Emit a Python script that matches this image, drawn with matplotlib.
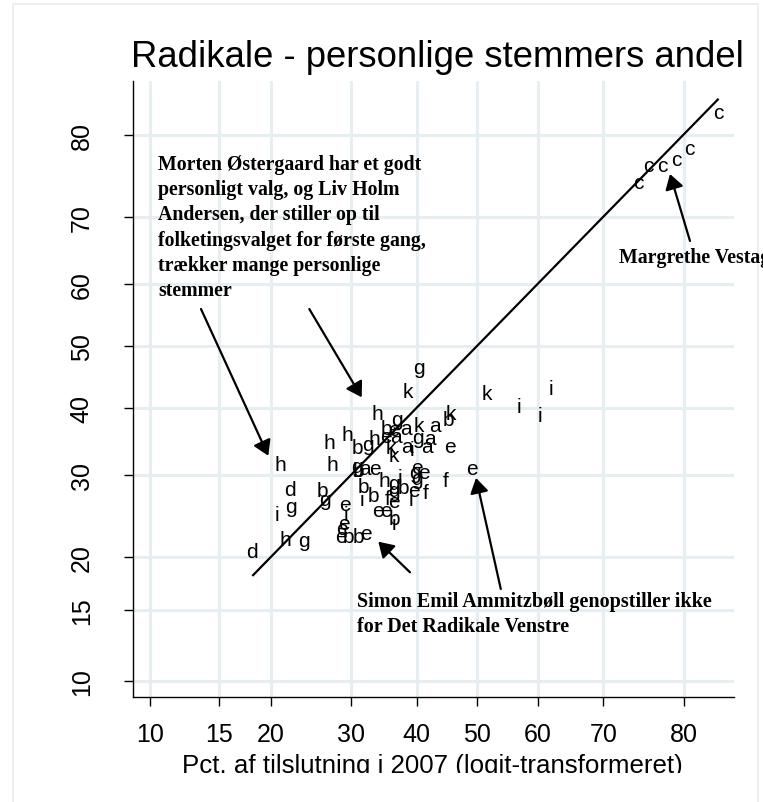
import numpy as np
import matplotlib
matplotlib.use('Agg')
import matplotlib.pyplot as plt
from matplotlib.patches import Rectangle

# ---------------- data ----------------
letters = ['c', 'c', 'c', 'c', 'c', 'c',
           'k', 'i', 'i', 'i', 'e', 'e', 'f',
           'g', 'k', 'h', 'k', 'g', 'b', 'b', 'e', 'a', 'k', 'a',
           'h', 'h', 'e', 'a', 'g', 'a', 'h', 'b', 'g', 'k', 'a', 'i', 'a', 'k',
           'h', 'h', 'g', 'b', 'a', 'e', 'e', 'g', 'e', 'h', 'i', 'g', 'g',
           'b', 'd', 'b', 'g', 'b', 'e', 'f', 'b', 'g', 'i', 'f', 'e', 'i',
           'e', 'g', 'i', 'e', 'e', 'b', 'i', 'e', 'i', 'e', 'e', 'b', 'b', 'e',
           'h', 'g', 'd']
pct_2007 = [83.5, 80.6, 79.2, 77.6, 75.9, 74.7,
            51.6, 57.0, 62.2, 60.4, 45.5, 49.1, 44.7,
            40.4, 38.6, 33.8, 45.6, 36.9, 45.2, 35.3, 36.4, 38.2, 40.4, 42.9,
            29.5, 33.4, 35.2, 36.7, 40.2, 42.2, 27.0, 30.9, 32.4, 35.9, 38.5, 39.2, 41.6, 36.4,
            21.1, 27.4, 30.8, 31.1, 32.0, 33.5, 40.0, 39.7, 41.1, 34.9, 37.4, 36.4, 40.0,
            31.8, 22.1, 26.1, 36.4, 37.9, 39.5, 41.5, 33.3, 26.5, 31.6, 35.4, 36.4, 39.0,
            29.2, 22.3, 20.7, 33.9, 35.2, 36.4, 36.4, 29.0, 29.3, 28.8, 28.6, 29.7, 31.1, 32.1,
            21.6, 23.8, 18.1]
pct_personal = [82.2, 78.5, 77.2, 76.5, 76.5, 74.5,
                42.2, 40.2, 43.0, 38.8, 34.1, 30.9, 29.3,
                46.5, 42.5, 39.1, 39.1, 38.1, 38.1, 36.8, 36.6, 36.8, 37.3, 37.2,
                35.8, 35.3, 35.6, 35.6, 35.4, 35.3, 34.6, 33.9, 34.3, 33.9, 34.1, 33.6, 34.0, 32.8,
                31.5, 31.5, 31.2, 30.6, 30.9, 30.9, 31.1, 30.3, 30.3, 29.3, 29.7, 28.9, 29.5,
                28.5, 28.0, 27.9, 27.9, 28.3, 27.9, 27.7, 27.3, 26.8, 26.8, 26.9, 26.5, 26.7,
                26.1, 25.8, 24.9, 25.4, 25.4, 24.4, 23.8, 23.8, 24.9, 23.2, 22.2, 22.3, 22.2, 22.6,
                21.9, 21.8, 20.6]
tick_values = [10, 15, 20, 30, 40, 50, 60, 70, 80]
tick_labels = [str(v) for v in tick_values]
title_text = "Radikale - personlige stemmers andel"
xlabel_text = "Pct. af tilslutning i 2007 (logit-transformeret)"
note_morten = ["Morten Østergaard har et godt",
               "personligt valg, og Liv Holm",
               "Andersen, der stiller op til",
               "folketingsvalget for første gang,",
               "trækker mange personlige",
               "stemmer"]
note_simon = ["Simon Emil Ammitzbøll genopstiller ikke",
              "for Det Radikale Venstre"]
note_margrethe = ["Margrethe Vestager"]

# ---------------- figure ----------------
W, H = 763, 803
fig = plt.figure(figsize=(W / 100, H / 100), dpi=100)
fig.patch.set_facecolor('white')
SANS = ['Liberation Sans', 'DejaVu Sans']
SERIF = ['Liberation Serif', 'DejaVu Serif']


def fwd(p):
    p = np.clip(np.asarray(p, dtype=float), 1e-6, 100 - 1e-6)
    return np.log(p / (100 - p))


def inv(l):
    return 100.0 / (1.0 + np.exp(-np.asarray(l, dtype=float)))


# outer light frame
fig.add_artist(Rectangle((12.5 / W, -0.05), (758 - 12.5) / W, (H - 5) / H + 0.05,
                         transform=fig.transFigure, fill=False,
                         edgecolor='#E6EEF0', lw=1.2, zorder=0))

ax = fig.add_axes([133 / W, 1 - 698 / H, (734 - 133) / W, (698 - 82) / H])
ax.set_xscale('function', functions=(fwd, inv))
ax.set_yscale('function', functions=(fwd, inv))
ax.set_xlim(inv(-2.311), inv(1.725))
ax.set_ylim(inv(-2.304), inv(1.738))
ax.set_facecolor('white')

ax.set_xticks(tick_values)
ax.set_xticklabels(tick_labels)
ax.set_yticks(tick_values)
ax.set_yticklabels(tick_labels)
ax.set_xticks([], minor=True)
ax.set_yticks([], minor=True)
ax.grid(True, color='#E6EEF1', lw=2.2)
ax.set_axisbelow(True)
for s in ['top', 'right']:
    ax.spines[s].set_visible(False)
for s in ['left', 'bottom']:
    ax.spines[s].set_color('black')
    ax.spines[s].set_linewidth(1.0)
ax.tick_params(axis='both', direction='out', length=6.2, width=1.0, color='black',
               labelsize=18, labelcolor='black')
ax.tick_params(axis='x', pad=12)
ax.tick_params(axis='y', pad=22)
for lab in ax.get_xticklabels() + ax.get_yticklabels():
    lab.set_family(SANS)
for lab in ax.get_yticklabels():
    lab.set_rotation(90)
    lab.set_va('center')
    lab.set_ha('right')

# diagonal reference line over the range of the data
lo, hi = min(pct_2007), max(pct_2007)
ax.plot([lo, hi], [lo, hi], color='black', lw=1.6, solid_capstyle='butt', zorder=3)

# letter markers
for lt, xv, yv in zip(letters, pct_2007, pct_personal):
    ax.text(xv, yv, lt, ha='center', va='center', fontsize=15, family=SANS,
            color='black', zorder=4)

# title and axis title
fig.text(131 / W, 1 - 66.7 / H, title_text, fontsize=26.3, family=SANS,
         ha='left', va='baseline')
fig.text(432 / W, 1 - 773 / H, xlabel_text, fontsize=18.6, family=SANS,
         ha='center', va='baseline')
# the reference cuts the axis title off just at its baseline
fig.add_artist(Rectangle((150 / W, 0), 570 / W, (H - 774) / H,
                         transform=fig.transFigure, facecolor='white',
                         edgecolor='none', zorder=20))


def block(lines, x, first_baseline, step=25.2, size=14.3):
    for i, ln in enumerate(lines):
        fig.text(x / W, 1 - (first_baseline + i * step) / H, ln, fontsize=size,
                 family=SERIF, weight='bold', ha='left', va='baseline', zorder=6)


block(note_morten, 158.3, 170)
block(note_simon, 356.7, 606.7, step=25, size=14.5)
block(note_margrethe, 619, 263.3)

arrows = [((201, 310), (268.3, 456.7)),
          ((309.3, 310), (361.7, 398.3)),
          ((690, 242), (670, 175)),
          ((410, 573.3), (378.3, 542.7)),
          ((500.8, 590), (476, 479))]
for (tx, ty), (hx, hy) in arrows:
    ax.annotate('', xy=(hx, H - hy), xycoords='figure pixels',
                xytext=(tx, H - ty), textcoords='figure pixels',
                arrowprops=dict(arrowstyle='-|>,head_length=0.45,head_width=0.28',
                                mutation_scale=20, lw=1.6, color='black',
                                shrinkA=0, shrinkB=0), zorder=6)

fig.savefig('out.png', dpi=100)
